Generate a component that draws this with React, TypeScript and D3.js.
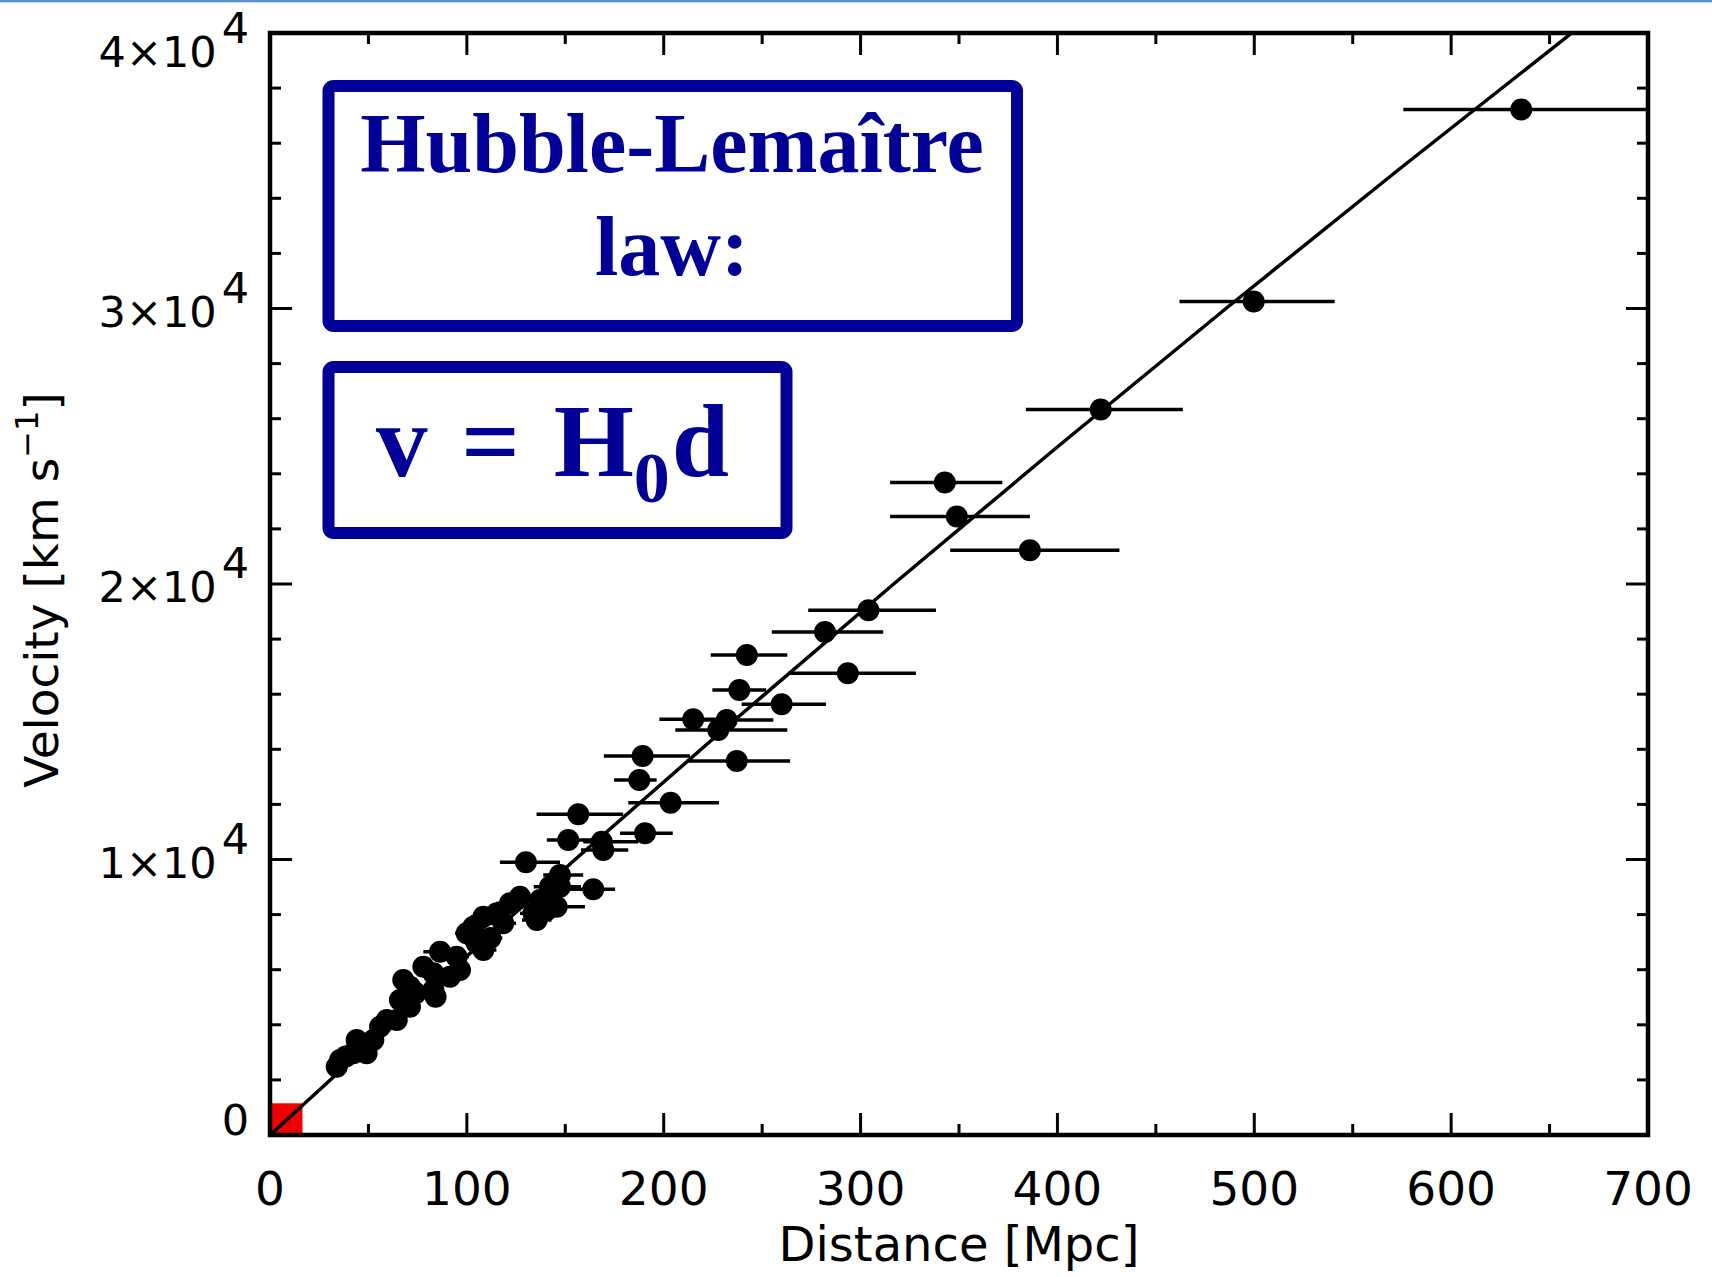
import React from 'react';
import * as d3 from 'd3';

// ---- data ----
const distance = [635.6, 499.7, 422.0, 342.8, 348.9, 386.0, 304.0, 281.9, 242.2, 293.5, 238.4, 259.9, 215.0, 232.0, 227.7, 189.3, 237.1, 187.6, 203.5, 156.6, 151.5, 168.5, 190.5, 169.3, 130.0, 147.3, 164.2, 147.3, 145.6, 137.2, 133.8, 140.6, 135.5, 121.9, 115.2, 118.5, 108.4, 103.3, 99.9, 105.0, 108.4, 86.4, 94.8, 96.5, 77.9, 83.0, 71.1, 67.7, 91.4, 83.0, 84.1, 66.0, 71.1, 59.3, 64.4, 55.9, 52.5, 44.0, 49.1, 42.3, 35.6, 33.9, 127.0, 142.2, 112.0, 74.0, 38.5];
const velocity = [37224, 30254, 26334, 23681, 22453, 21226, 19048, 18258, 17424, 16759, 16153, 15634, 15089, 15064, 14701, 13757, 13576, 12886, 12062, 11641, 10708, 10646, 10951, 10345, 9898, 9438, 8919, 9013, 8287, 8530, 8047, 8168, 7804, 8410, 8047, 7684, 7924, 7561, 7322, 6959, 6716, 6654, 6472, 5990, 6109, 5870, 5383, 5627, 5746, 5264, 5021, 4900, 4657, 4174, 4174, 3931, 3448, 3448, 2964, 2964, 2722, 2479, 8650, 9013, 7150, 5150, 2850];
const errLow = [575.7, 462.0, 384.0, 315.0, 315.0, 345.5, 273.4, 254.9, 223.9, 263.3, 224.7, 239.6, 197.8, 212.0, 205.9, 169.6, 211.6, 174.8, 182.0, 135.4, 140.6, 159.1, 177.8, 158.0, 116.8, 138.8, 152.4, 140.0, 137.0, 129.0, 127.0, 133.0, 128.0, 115.0, 109.0, 112.0, 102.0, 97.0, 94.0, 99.0, 102.0, 77.9, 89.0, 91.0, 73.0, 78.0, 67.0, 63.5, 86.0, 78.5, 79.0, 62.0, 67.0, 56.0, 60.5, 52.5, 49.5, 41.0, 46.0, 40.0, 33.5, 32.0, 120.0, 134.0, 106.0, 70.0, 36.0];
const errHigh = [705.0, 540.8, 463.7, 372.0, 386.0, 431.5, 338.3, 311.5, 262.8, 328.1, 252.0, 282.4, 236.0, 255.7, 262.8, 213.3, 264.2, 196.4, 228.1, 179.4, 165.9, 187.1, 204.6, 182.0, 147.3, 159.1, 175.3, 158.0, 160.0, 146.0, 141.0, 149.0, 143.0, 129.0, 122.0, 125.0, 115.0, 110.0, 106.0, 111.0, 115.0, 94.8, 101.0, 102.0, 83.0, 88.0, 75.5, 72.0, 97.0, 88.0, 89.0, 70.0, 75.0, 62.5, 68.5, 59.0, 55.5, 47.0, 52.0, 45.0, 38.0, 36.0, 134.0, 151.0, 118.0, 78.0, 41.0];

// fitted relation, vertices
const fitDistance = [0, 76.6, 155.0, 235.0, 316.8, 400.4, 485.6, 572.6, 661.3];
const fitVelocity = [0, 5000, 10000, 15000, 20000, 25000, 30000, 35000, 40000];

// red "local" square (distance, velocity extents)
const localBox = [16.5, 1150];

const xMajorTicks = [0, 100, 200, 300, 400, 500, 600, 700];
const xMinorTicks = [50, 150, 250, 350, 450, 550, 650];
const yMajorTicks = [0, 10000, 20000, 30000, 40000];
const yMinorTicks = [2000, 4000, 6000, 8000, 12000, 14000, 16000, 18000, 22000, 24000, 26000, 28000, 32000, 34000, 36000, 38000];
const yTickMantissa = ['0', '1', '2', '3', '4'];
const yTickExponent = ['', '4', '4', '4', '4'];

const titleLines = ['Hubble-Lemaître', 'law:'];

const NAVY = '#000096';
const AXFONT = '"DejaVu Sans", sans-serif';
const SERIF = '"Liberation Serif", "Times New Roman", serif';

export default function App() {
  const W = 1712, H = 1277;
  const left = 270, right = 1648, top = 33, bottom = 1135;
  const x = d3.scaleLinear().domain([0, 700]).range([left, right]);
  const y = d3.scaleLinear().domain([0, 40000]).range([bottom, top]);

  const fitPts: [number, number][] = fitDistance.map((d, i) => [d, fitVelocity[i]]);
  const fitPath = d3.line<[number, number]>()
    .x(p => x(p[0]))
    .y(p => y(p[1]))
    .curve(d3.curveMonotoneY)(fitPts) || '';

  const majorLen = 22, minorLen = 11;
  const tickW = 3;

  return (
    <svg width={W} height={H} viewBox={`0 0 ${W} ${H}`}
      style={{ position: 'absolute', left: 0, top: 0, background: '#fff' }}>
      <rect x={0} y={0} width={W} height={H} fill="#fff" />
      <line x1={0} x2={W} y1={1} y2={1} stroke="#5b8fd4" strokeWidth={2.5} />
      <defs>
        <clipPath id="plotClip">
          <rect x={left} y={top} width={right - left} height={bottom - top} />
        </clipPath>
      </defs>

      {/* red local region */}
      <rect x={x(0)} y={y(localBox[1])} width={x(localBox[0]) - x(0)} height={y(0) - y(localBox[1])} fill="#ee0000" />

      <g clipPath="url(#plotClip)">
        {/* fit curve */}
        <path d={fitPath} fill="none" stroke="#000" strokeWidth={3.5} />
        {/* error bars */}
        {distance.map((d, i) => (
          <line key={'e' + i} x1={x(errLow[i])} x2={x(errHigh[i])} y1={y(velocity[i])} y2={y(velocity[i])}
            stroke="#000" strokeWidth={3.5} />
        ))}
        {/* points */}
        {distance.map((d, i) => (
          <circle key={'p' + i} cx={x(d)} cy={y(velocity[i])} r={11} fill="#000" />
        ))}
      </g>

      {/* ticks */}
      <g stroke="#000" strokeWidth={tickW}>
        {xMajorTicks.map(t => (
          <g key={'xm' + t}>
            <line x1={x(t)} x2={x(t)} y1={bottom} y2={bottom - majorLen} />
            <line x1={x(t)} x2={x(t)} y1={top} y2={top + majorLen} />
          </g>
        ))}
        {xMinorTicks.map(t => (
          <g key={'xn' + t}>
            <line x1={x(t)} x2={x(t)} y1={bottom} y2={bottom - minorLen} />
            <line x1={x(t)} x2={x(t)} y1={top} y2={top + minorLen} />
          </g>
        ))}
        {yMajorTicks.map(t => (
          <g key={'ym' + t}>
            <line x1={left} x2={left + majorLen} y1={y(t)} y2={y(t)} />
            <line x1={right} x2={right - majorLen} y1={y(t)} y2={y(t)} />
          </g>
        ))}
        {yMinorTicks.map(t => (
          <g key={'yn' + t}>
            <line x1={left} x2={left + minorLen} y1={y(t)} y2={y(t)} />
            <line x1={right} x2={right - minorLen} y1={y(t)} y2={y(t)} />
          </g>
        ))}
      </g>

      {/* frame */}
      <rect x={left} y={top} width={right - left} height={bottom - top} fill="none" stroke="#000" strokeWidth={4.5} />

      {/* x tick labels */}
      {xMajorTicks.map(t => (
        <text key={'xl' + t} x={x(t)} y={1205} textAnchor="middle" fontFamily={AXFONT} fontSize={47} fill="#000">{t}</text>
      ))}

      {/* y tick labels */}
      {yMajorTicks.map((t, i) => {
        const base = Math.min(Math.max(y(t) + 18, top + 34), bottom);
        return (
          <text key={'yl' + t} x={249} y={base} textAnchor="end" fontFamily={AXFONT} fontSize={43} fill="#000">
            {yTickExponent[i] ? `${yTickMantissa[i]}×10` : yTickMantissa[i]}
            {yTickExponent[i] ? <tspan dx={5} dy={-24}>{yTickExponent[i]}</tspan> : null}
          </text>
        );
      })}

      {/* axis titles */}
      <text x={(left + right) / 2} y={1261} textAnchor="middle" fontFamily={AXFONT} fontSize={48} fill="#000">Distance [Mpc]</text>
      <text transform="translate(58,590) rotate(-90)" textAnchor="middle" fontFamily={AXFONT} fontSize={47} fill="#000">
        Velocity [km s<tspan dy={-20} fontSize={32}>−1</tspan><tspan dy={20}>]</tspan>
      </text>

      {/* annotation boxes */}
      <rect x={328.5} y={86} width={688.5} height={240} rx={5} fill="#fff" stroke={NAVY} strokeWidth={12} />
      <text x={672} y={172} textAnchor="middle" fontFamily={SERIF} fontWeight="bold" fontSize={84} fill={NAVY}>{titleLines[0]}</text>
      <text x={672} y={275} textAnchor="middle" fontFamily={SERIF} fontWeight="bold" fontSize={84} fill={NAVY}>{titleLines[1]}</text>

      <rect x={328.5} y={367} width={458} height={166} rx={5} fill="#fff" stroke={NAVY} strokeWidth={12} />
      <text x={376} y={476} fontFamily={SERIF} fontWeight="bold" fontSize={103} fill={NAVY} wordSpacing={8}>
        v = H<tspan fontSize={72} dy={26}>0</tspan><tspan dy={-26} dx={2}>d</tspan>
      </text>
    </svg>
  );
}
